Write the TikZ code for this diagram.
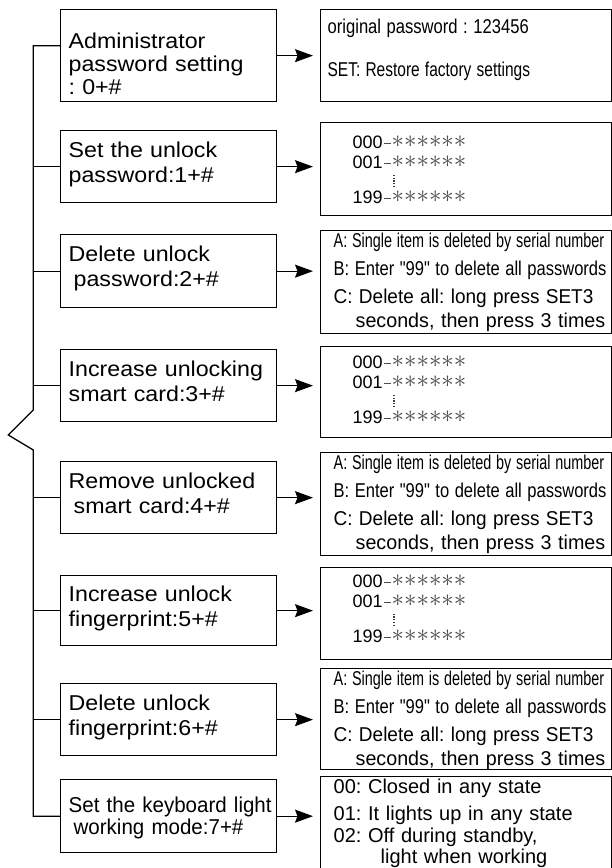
\documentclass[tikz,border=0pt]{standalone}
\usepackage{fontspec}
\setmainfont{Liberation Sans}[Ligatures=TeXOff]
\newfontfamily\lfont[FakeStretch=1.08,Ligatures=TeXOff]{Liberation Sans}
\newfontfamily\lfontn[FakeStretch=0.955,Ligatures=TeXOff]{Liberation Sans}
\usepackage{graphicx}
\usetikzlibrary{arrows.meta}
\frenchspacing
\newcommand\sx[2]{\scalebox{#1}[1]{#2}}
\newcommand\tl[1]{\makebox[0pt][l]{#1}}
\newcommand\pwstars{\textcolor{black!72}{\smash{\raisebox{1pt}{\fontsize{24.4}{24}\selectfont$\mathord{\ast}\mathord{\ast}\mathord{\ast}\mathord{\ast}\mathord{\ast}\mathord{\ast}$}}}}
\newcommand\pwrow[1]{\hspace*{25pt}\tl{#1\hspace{1.5pt}\textcolor{black!70}{\rule[5pt]{6.5pt}{0.7pt}}\hspace{1pt}\pwstars}}
\begin{document}
\begin{tikzpicture}[x=1pt,y=-1pt,
  wire/.style={line width=1.3pt},
  arr/.style={line width=1.3pt,-{Stealth[length=18pt,width=13pt,inset=2.5pt]},shorten >=7pt},
  lbox/.style={draw,line width=1.3pt,anchor=north west,text width=200pt,inner xsep=8pt,inner ysep=0pt,align=left,font=\lfont\fontsize{21.5}{25}\selectfont},
  rbox/.style={draw,line width=1.3pt,anchor=north west,text width=277pt,inner xsep=7pt,inner ysep=0pt,align=left,font=\fontsize{20}{24}\selectfont},
  pwbox/.style={rbox,font=\fontsize{18}{20}\selectfont},
  dotmark/.style={line width=1.2pt,dash pattern=on 1.2pt off 1.5pt,black!75}
]
\useasboundingbox (0,0) rectangle (612,868);
\clip (0,0) rectangle (612,868);

% left boxes
\node[lbox,text height=39pt,text depth=53pt,font=\lfont\fontsize{21.5}{23}\selectfont] (L1) at (60,9) {\tl{Administrator}\\\tl{password setting}\\\tl{: 0+\#}};
\node[lbox,text height=26.7pt,text depth=45.3pt] (L2) at (60,130) {\tl{Set the unlock}\\\tl{password:1+\#}};
\node[lbox,text height=27.2pt,text depth=45.8pt] (L3) at (60,234) {\tl{Delete unlock}\\\hspace*{5pt}\tl{password:2+\#}};
\node[lbox,text height=26.7pt,text depth=45.3pt] (L4) at (60,349) {\tl{Increase unlocking}\\\tl{smart card:3+\#}};
\node[lbox,text height=26.7pt,text depth=45.3pt] (L5) at (60,461) {\tl{Remove unlocked}\\\hspace*{5pt}\tl{smart card:4+\#}};
\node[lbox,text height=25.7pt,text depth=44.3pt] (L6) at (60,575) {\tl{Increase unlock}\\\tl{fingerprint:5+\#}};
\node[lbox,text height=26.7pt,text depth=45.3pt] (L7) at (60,683) {\tl{Delete unlock}\\\tl{fingerprint:6+\#}};
\node[lbox,text height=32.7pt,text depth=40.3pt,font=\lfontn\fontsize{21.5}{22.3}\selectfont] (L8) at (60,779) {\tl{Set the keyboard light}\\\hspace*{5pt}\tl{working mode:7+\#}};

% right boxes
\node[rbox,text height=24pt,text depth=68pt] (R1) at (320,9) {\tl{\sx{0.83}{original password : 123456}}\\[19pt]\tl{\sx{0.775}{SET: Restore factory settings}}};
\node[pwbox,text height=26.3pt,text depth=66.7pt] (R2) at (320,122) {\pwrow{000}\\\pwrow{001}\\[15pt]\pwrow{199}};
\node[rbox,text height=16.7pt,text depth=86.3pt] (R3) at (320,230) {\hspace*{6pt}\tl{\sx{0.72}{A: Single item is deleted by serial number}}\\[4.3pt]\hspace*{6pt}\tl{\sx{0.827}{B: Enter "99" to delete all passwords}}\\[4.3pt]\hspace*{6pt}\tl{\sx{0.95}{C: Delete all: long press SET3}}\\[-0.6pt]\hspace*{28pt}\tl{\sx{0.985}{seconds, then press 3 times}}};
\node[pwbox,text height=22.8pt,text depth=68.7pt] (R4) at (320,345.5) {\pwrow{000}\\\pwrow{001}\\[15pt]\pwrow{199}};
\node[rbox,text height=16.7pt,text depth=86.3pt] (R5) at (320,452) {\hspace*{6pt}\tl{\sx{0.72}{A: Single item is deleted by serial number}}\\[4.3pt]\hspace*{6pt}\tl{\sx{0.827}{B: Enter "99" to delete all passwords}}\\[4.3pt]\hspace*{6pt}\tl{\sx{0.95}{C: Delete all: long press SET3}}\\[-0.6pt]\hspace*{28pt}\tl{\sx{0.985}{seconds, then press 3 times}}};
\node[pwbox,text height=20pt,text depth=72pt] (R6) at (320,567) {\pwrow{000}\\\pwrow{001}\\[15pt]\pwrow{199}};
\node[rbox,text height=16.7pt,text depth=84.3pt] (R7) at (320,668) {\hspace*{6pt}\tl{\sx{0.72}{A: Single item is deleted by serial number}}\\[4.3pt]\hspace*{6pt}\tl{\sx{0.827}{B: Enter "99" to delete all passwords}}\\[4.3pt]\hspace*{6pt}\tl{\sx{0.95}{C: Delete all: long press SET3}}\\[-0.6pt]\hspace*{28pt}\tl{\sx{0.985}{seconds, then press 3 times}}};
\node[rbox,text height=17.3pt,text depth=76.7pt] (R8) at (320,776) {\hspace*{6pt}\tl{00: Closed in any state}\\[2.7pt]\hspace*{6pt}\tl{01: It lights up in any state}\\[-2.3pt]\hspace*{6pt}\tl{02: Off during standby,}\\[-2.4pt]\hspace*{53pt}\tl{light when working}};

% vertical dots in the number lists
\draw[dotmark] ([xshift=74pt,yshift=-53pt]R2.north west) -- ([xshift=74pt,yshift=-66pt]R2.north west);
\draw[dotmark] ([xshift=74pt,yshift=-49.5pt]R4.north west) -- ([xshift=74pt,yshift=-62.5pt]R4.north west);
\draw[dotmark] ([xshift=74pt,yshift=-46.7pt]R6.north west) -- ([xshift=74pt,yshift=-59.7pt]R6.north west);

% arrows
\foreach \i in {1,...,8} \draw[arr] (L\i.east) -- (L\i.east -| R\i.west);

% left bracket bus
\coordinate (kt) at (33.3,410);
\coordinate (tip) at (8.3,435);
\coordinate (kb) at (33.3,450);
\draw[wire] ([yshift=10pt]L1.west) -- ([yshift=10pt]L1.west -| kt) -- (kt) -- (tip) -- (kb) -- (L8.west -| kb) -- (L8.west);
\foreach \i in {2,...,7} \draw[wire] (L\i.west) -- (L\i.west -| kt);
\end{tikzpicture}
\end{document}
